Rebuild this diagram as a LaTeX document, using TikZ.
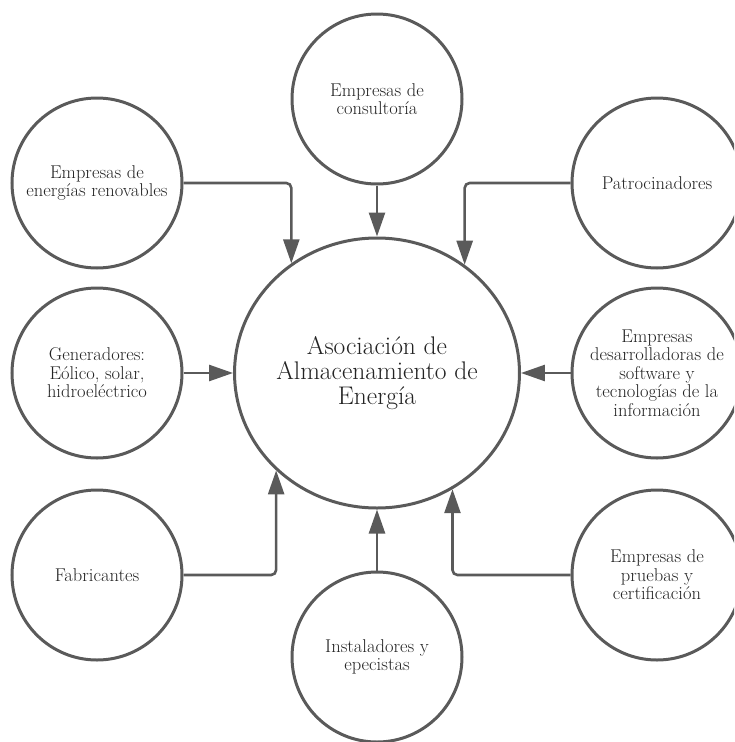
\documentclass[tikz,border=0pt]{standalone}
\usetikzlibrary{arrows.meta,shapes.geometric}

\definecolor{linegray}{RGB}{90,90,90}
\definecolor{textgray}{RGB}{35,35,35}

\begin{document}
\begin{tikzpicture}[x=1pt,y=-1pt,
    party/.style={draw=linegray, line width=3pt, circle, minimum size=170pt,
      inner sep=0pt, align=center, text=textgray,
      font=\fontsize{18.5}{18.5}\selectfont},
    link/.style={draw=linegray, line width=2.6pt, rounded corners=5pt,
      -{Triangle[length=24pt,width=16pt]}}]

  \clip (0,0) rectangle (734,742);

  % Draw the central node
  \node[ellipse, draw=linegray, line width=3pt, minimum width=282pt,
    minimum height=270pt, inner sep=0pt, align=center, text=textgray,
    font=\fontsize{25.5}{25}\selectfont] (hub) at (377,373)
    {Asociación de\\Almacenamiento de\\Energía};

  % Draw the outer nodes
  \foreach \n/\p/\t in {cons/{377,99}/{Empresas de\\consultoría},
      ren/{97,183}/{Empresas de\\energías renovables},
      pat/{657,183}/{Patrocinadores},
      gen/{97,373}/{Generadores:\\Eólico, solar,\\hidroeléctrico},
      soft/{657,373}/{Empresas\\desarrolladoras de\\software y\\tecnologías de la\\información},
      fab/{97,575}/{Fabricantes},
      pru/{657,575}/{Empresas de\\pruebas y\\certificación},
      inst/{377,657}/{Instaladores y\\epecistas}}
    \node[party] (\n) at (\p) {\t};

  % Draw straight arrows into the central node
  \foreach \n in {cons,gen,soft,inst}
    \draw[link] (\n) -- (hub);

  % Draw elbow arrows into the central node
  \foreach \n/\a in {ren/128,pat/51,fab/224,pru/303}
    \draw[link] (\n) -| (hub.\a);
\end{tikzpicture}
\end{document}
